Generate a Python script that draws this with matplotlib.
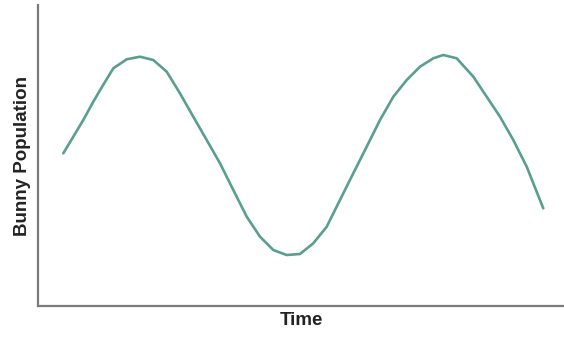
import matplotlib
matplotlib.use("Agg")
import matplotlib.pyplot as plt

# Bunny population over time (arbitrary units)
time = [4.81, 6.71, 8.61, 10.51, 12.41, 14.32, 16.86, 19.39, 21.92, 24.47,
        26.99, 29.52, 32.07, 34.60, 37.13, 39.68, 42.21, 44.73, 47.28, 49.81,
        52.34, 54.89, 57.41, 59.94, 62.49, 65.02, 67.55, 70.10, 72.62, 75.15,
        77.05, 79.60, 82.76, 85.30, 87.83, 90.36, 92.91, 96.06]
population = [50.73, 56.25, 61.79, 67.87, 73.50, 78.97, 81.96, 82.82, 81.73,
              77.84, 70.66, 62.89, 55.15, 47.41, 38.54, 29.67, 23.02, 18.60,
              16.94, 17.28, 20.83, 26.35, 35.22, 44.09, 52.92, 61.79, 69.53,
              75.08, 79.50, 82.29, 83.39, 82.29, 76.18, 69.53, 62.89, 55.15,
              46.28, 32.46]

fig = plt.figure(figsize=(5.64, 3.37), dpi=100)
ax = fig.add_axes([38 / 564, 31 / 337, 526 / 564, 301 / 337])

ax.plot(time, population, color="#5a9e90", linewidth=1.9,
        solid_capstyle="round", solid_joinstyle="round")

ax.set_xlim(0, 100)
ax.set_ylim(0, 100)
ax.set_xticks([])
ax.set_yticks([])
for side in ("top", "right"):
    ax.spines[side].set_visible(False)
for side in ("left", "bottom"):
    ax.spines[side].set_color("#7a7a7a")
    ax.spines[side].set_linewidth(1.6)

font = dict(family=["Liberation Sans", "DejaVu Sans"], fontweight="bold",
            fontsize=13.5, color="#222222")
ax.set_xlabel("Time", labelpad=4, **font)
ax.set_ylabel("Bunny Population", labelpad=5, **font)

fig.savefig("out.png", dpi=100)
